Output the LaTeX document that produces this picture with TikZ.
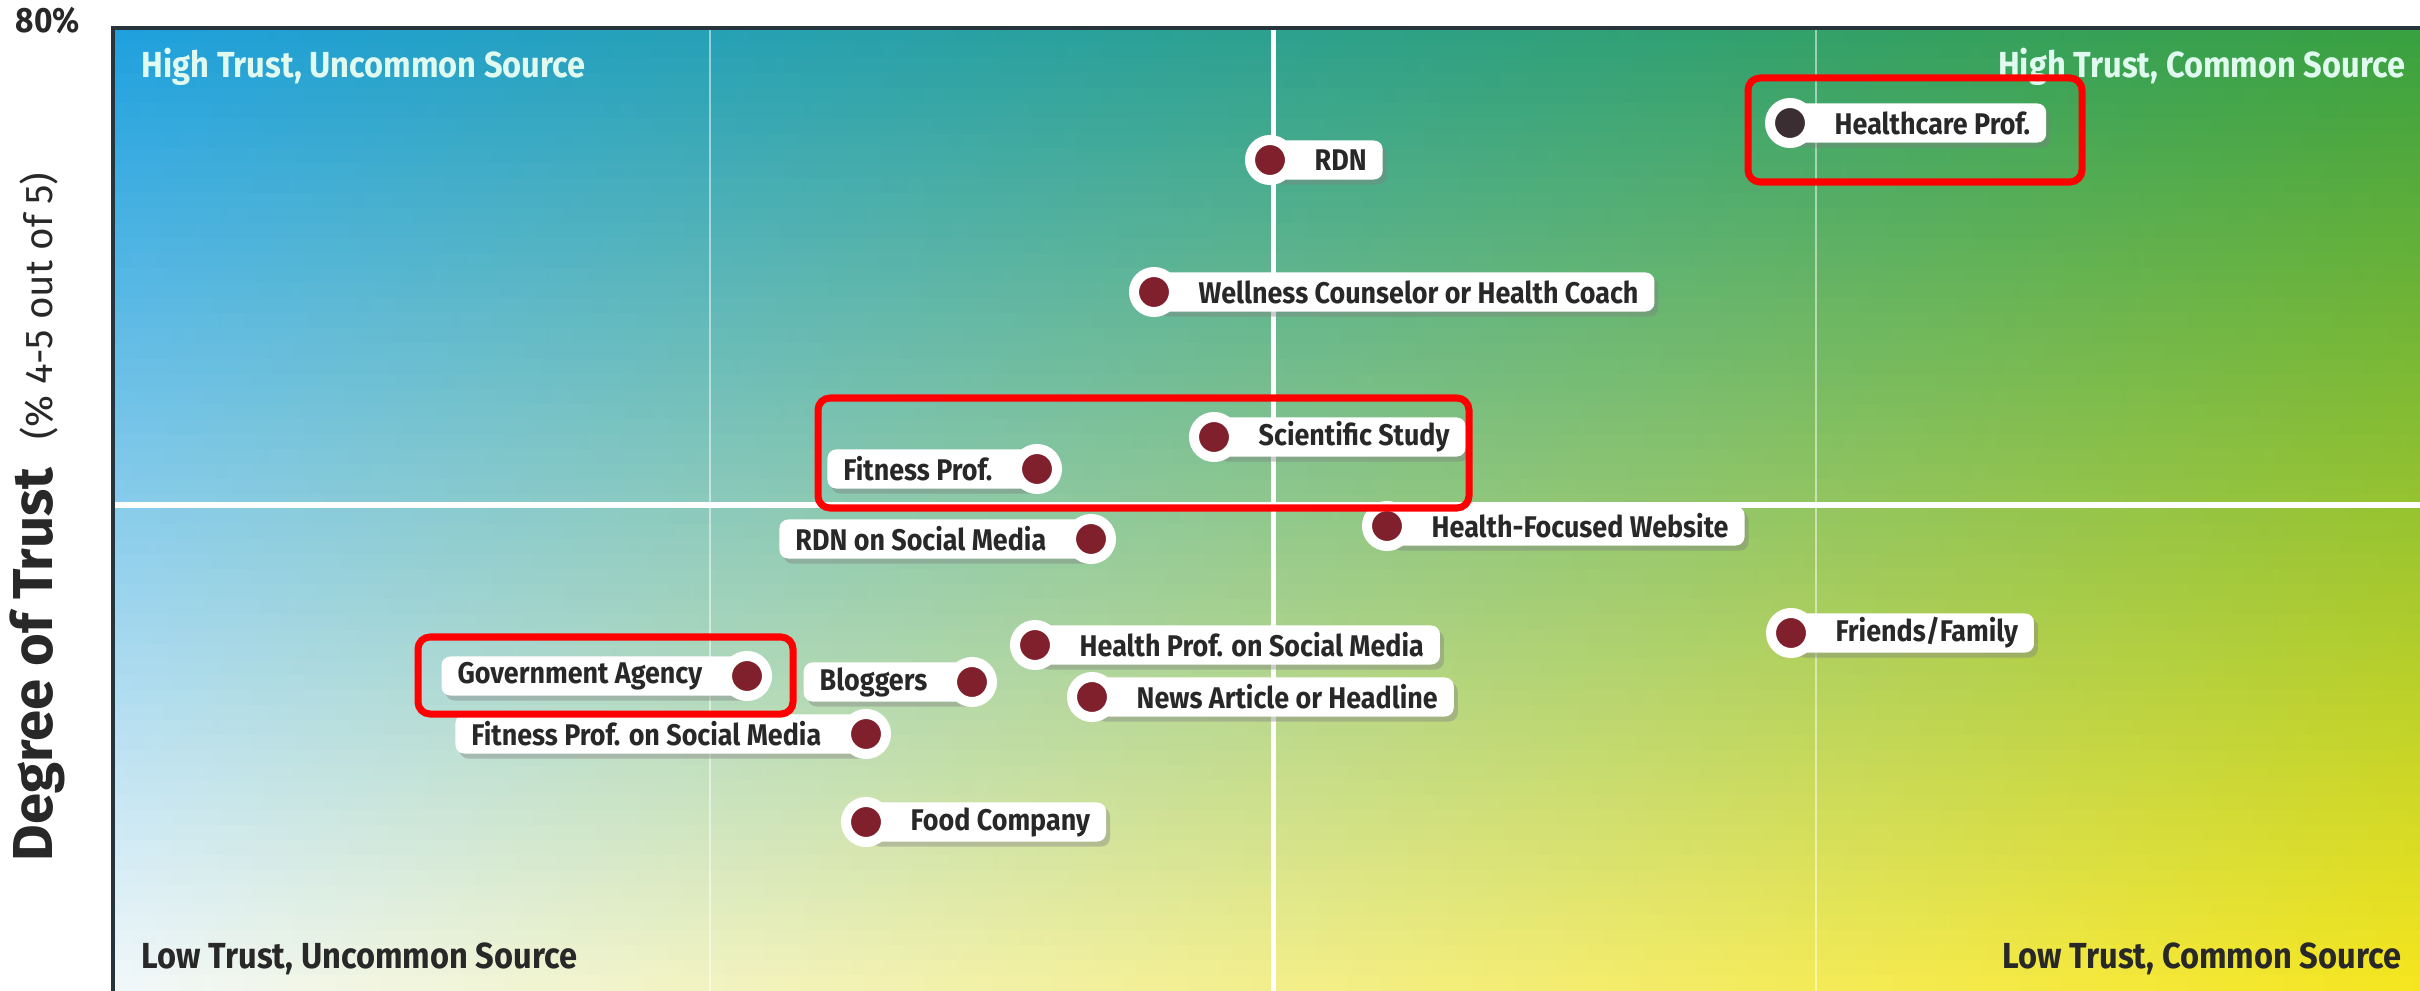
\documentclass[tikz,border=0pt]{standalone}
\usepackage{fontspec}
\setmainfont{Fira Sans}[FakeStretch=0.9]
\newfontfamily\axisfont{Fira Sans}
\usepackage{xcolor}
\usetikzlibrary{positioning, shadows}

\definecolor{tl}{RGB}{30,160,222}
\definecolor{tr}{RGB}{56,160,64}
\definecolor{bl}{RGB}{242,248,250}
\definecolor{br}{RGB}{246,230,30}
\definecolor{dotred}{RGB}{128,32,44}
\definecolor{dotdark}{RGB}{58,46,50}
\definecolor{framec}{RGB}{40,52,60}
\definecolor{mint}{RGB}{225,250,240}
\definecolor{ink}{RGB}{40,40,40}

\begin{document}
\begin{tikzpicture}[
    x=0.01cm, y=-0.01cm,
    tag/.style={fill=white, rounded corners=2.5pt, minimum height=0.39cm,
      inner xsep=0.16cm, inner ysep=0pt, text=ink,
      font=\bfseries\fontsize{8.5}{9}\selectfont,
      drop shadow={shadow xshift=0.04cm, shadow yshift=-0.05cm, opacity=0.4}},
    tagr/.style={tag, anchor=west, execute at begin node={\hspace{0.28cm}}},
    tagl/.style={tag, anchor=east, execute at end node={\hspace{0.28cm}}},
    pin/.style={circle, draw=white, fill=dotred, line width=0.1cm,
      minimum size=0.4cm, inner sep=0pt},
    quad/.style={font=\bfseries\fontsize{10.3}{12}\selectfont, inner sep=0pt},
    hilite/.style={draw=red, line width=0.07cm, rounded corners=0.12cm},
  ]
    \useasboundingbox (0,0) rectangle (2420,991);
    \fill[white] (0,0) rectangle (2420,991);

    % four-corner colour field, row by row
    \foreach \i in {0,...,63} {
      \pgfmathsetmacro\p{100-(\i+0.5)*1.5625}
      \fill[left color=tl!\p!bl, right color=tr!\p!br]
        (113,{28+\i*15.047}) rectangle (2420,{29+(\i+1)*15.047});
    }

    % grid
    \draw[white, opacity=0.5, line width=0.02cm] (710,28) -- (710,991);
    \draw[white, opacity=0.5, line width=0.02cm] (1816,28) -- (1816,991);
    \draw[white, line width=0.05cm] (1273,28) -- (1273,991);
    \draw[white, line width=0.05cm] (113,505) -- (2420,505);
    \draw[framec, line width=0.035cm] (113,991) -- (113,28) -- (2420,28);

    % axis
    \node[font=\bfseries\fontsize{10}{11}\selectfont, text=ink, anchor=base west,
      inner sep=0pt] (top) at (15,33) {80\%};
    \node[rotate=90, anchor=base, inner sep=0pt, text=ink, font=\axisfont] (ylab) at (52,517)
      {{\bfseries\fontsize{16}{18}\selectfont Degree of Trust}\hspace{0.28cm}{\fontsize{11}{12}\selectfont (\% 4-5 out of 5)}};

    % quadrants
    \node[quad, text=mint, anchor=base west] (q-hu) at (141,78) {High Trust, Uncommon Source};
    \node[quad, text=mint, anchor=base east] (q-hc) at (2406,78) {High Trust, Common Source};
    \node[quad, text=ink, anchor=base west] (q-lu) at (141,968) {Low Trust, Uncommon Source};
    \node[quad, text=ink, anchor=base east] (q-lc) at (2402,968) {Low Trust, Common Source};

    % sources
    \node[tagr] (hcp-tag) at (1790,123) {Healthcare Prof.};
    \node[pin, fill=dotdark] (hcp) at (hcp-tag.west) {};
    \node[tagr] (rdn-tag) at (1270,160) {RDN};
    \node[pin] (rdn) at (rdn-tag.west) {};
    \node[tagr] (coach-tag) at (1154,292) {Wellness Counselor or Health Coach};
    \node[pin] (coach) at (coach-tag.west) {};
    \node[tagr] (study-tag) at (1214,437) {Scientific Study};
    \node[pin] (study) at (study-tag.west) {};
    \node[tagl] (fit-tag) at (1037,469) {Fitness Prof.};
    \node[pin] (fit) at (fit-tag.east) {};
    \node[tagr] (web-tag) at (1387,526) {Health-Focused Website};
    \node[pin] (web) at (web-tag.west) {};
    \node[tagl] (rdnsm-tag) at (1091,539) {RDN on Social Media};
    \node[pin] (rdnsm) at (rdnsm-tag.east) {};
    \node[tagr] (fam-tag) at (1791,633) {Friends/Family};
    \node[pin] (fam) at (fam-tag.west) {};
    \node[tagr] (hpsm-tag) at (1035,645) {Health Prof. on Social Media};
    \node[pin] (hpsm) at (hpsm-tag.west) {};
    \node[tagl] (gov-tag) at (747,676) {Government Agency};
    \node[pin] (gov) at (gov-tag.east) {};
    \node[tagl] (blog-tag) at (972,682) {Bloggers};
    \node[pin] (blog) at (blog-tag.east) {};
    \node[tagr] (news-tag) at (1092,697) {News Article or Headline};
    \node[pin] (news) at (news-tag.west) {};
    \node[tagl] (fpsm-tag) at (866,734) {Fitness Prof. on Social Media};
    \node[pin] (fpsm) at (fpsm-tag.east) {};
    \node[tagr] (food-tag) at (866,822) {Food Company};
    \node[pin] (food) at (food-tag.west) {};

    % highlights
    \draw[hilite] (1748,78) rectangle (2082,182);
    \draw[hilite] (818,398) rectangle (1469,508);
    \draw[hilite] (418,637) rectangle (793,714);
  \end{tikzpicture}
\end{document}
